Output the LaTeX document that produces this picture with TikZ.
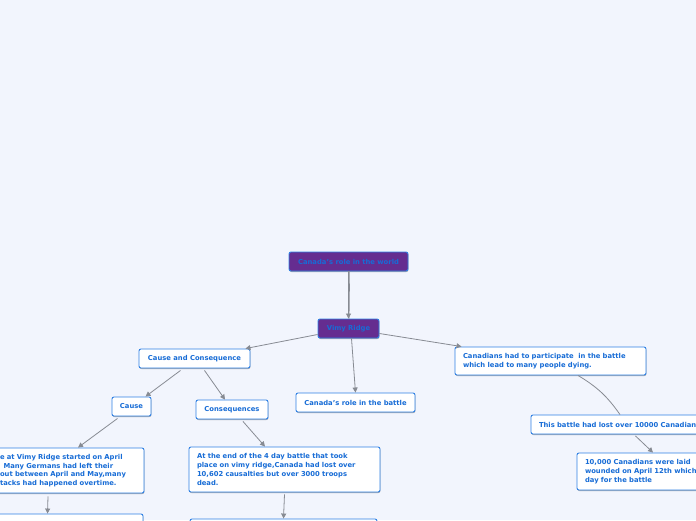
\documentclass[tikz,border=0pt]{standalone}
\usepackage{fontspec}
\setmainfont{DejaVu Sans}
\usetikzlibrary{arrows.meta,shadows}
\definecolor{pagebg}{HTML}{F2F5FD}
\definecolor{boxline}{HTML}{2F80E4}
\definecolor{boxtext}{HTML}{176CD6}
\definecolor{topicfill}{HTML}{652D90}
\definecolor{linkgray}{HTML}{878B93}
\begin{document}
\begin{tikzpicture}[x=1pt,y=-1pt,
		box/.style={draw=boxline,line width=0.9pt,rounded corners=2pt,fill=white,text=boxtext,
			font=\fontsize{6.8}{8.7}\selectfont\bfseries,minimum height=19pt,inner ysep=0pt,inner xsep=8pt,
			drop shadow={shadow xshift=0.4pt,shadow yshift=-1pt,fill=black,opacity=0.3}},
		topic/.style={box,fill=topicfill},
		para/.style={box,align=left,text width=#1},
		link/.style={draw=linkgray,line width=0.8pt,-{Triangle[length=5pt,width=5pt]}}]
	\useasboundingbox (0,0) rectangle (696,520);
	\fill[pagebg] (0,0) rectangle (696,520);
	\clip (0,0) rectangle (696,520);
	% main topics
	\node[topic,minimum width=119pt] (world) at (348.5,261.5) {Canada's role in the world};
	\node[topic,minimum width=61pt] (vimy) at (348.5,328.5) {Vimy Ridge};
	% first level
	\node[box,minimum width=111pt] (cc) at (194.5,358.5) {Cause and Consequence};
	\node[box,minimum width=119pt] (role) at (355.5,402.5) {Canada's role in the battle};
	\node[para=175pt,minimum height=28pt] (part) at (550.5,361)
		{Canadians had to participate~ in the battle\\which lead to many people dying.};
	% cause and consequence
	\node[box,minimum width=39pt] (cause) at (131.5,406.5) {Cause};
	\node[box,minimum width=72pt] (cons) at (232,409.5) {Consequences};
	\node[para=136pt,minimum height=45pt] (start) at (68,470.5)
		{e at Vimy Ridge started on April\\\hspace*{3.5pt}Many Germans had left their\\out between April and May,many\\tacks had happened overtime.};
	\node[para=175pt,minimum height=45pt] (endbox) at (284.5,469.5)
		{At the end of the 4 day battle that took\\place on vimy ridge,Canada had lost over\\10,602 causalties but over 3000 troops\\dead.};
	\node[box,minimum width=151pt,minimum height=46pt] (below1) at (67.5,537) {};
	\node[box,minimum width=187pt,minimum height=46pt] (below2) at (283.5,542) {};
	% losses
	\node[para=193pt] (lost) at (635.5,424.5) {This battle had lost over 10000 Canadians};
	\node[para=147pt,minimum height=37pt] (wound) at (658.5,471.5)
		{10,000 Canadians were laid\\wounded on April 12th which\\day for the battle};
	% connectors
	\draw[link] (world.south) -- (vimy.north);
	\draw[draw=linkgray,line width=0.6pt] ([xshift=1.2pt]world.south) -- ([xshift=0.6pt]vimy.north);
	\draw[link] ([yshift=-6pt]vimy.west) -- ([xshift=-5pt]cc.north east);
	\draw[link] ([xshift=3pt]vimy.south) -- (role.north);
	\draw[link] ([yshift=-5pt]vimy.east) -- ([xshift=7pt]part.north west);
	\draw[link] ([xshift=-14pt,yshift=-2pt]cc.south) -- ([xshift=-6pt]cause.north east);
	\draw[link] ([xshift=10pt,yshift=-2pt]cc.south) -- ([xshift=-7pt]cons.north);
	\draw[link] ([xshift=-14pt,yshift=-2pt]cause.south) -- ([xshift=10pt]start.north);
	\draw[link] ([xshift=11pt,yshift=-2pt]cons.south) -- ([xshift=-19.5pt]endbox.north);
	\draw[link] ([yshift=-2pt]endbox.south) -- (below2.north);
	\draw[link] ([xshift=-20pt,yshift=-3pt]start.south) -- ([xshift=-20pt]below1.north);
	\draw[draw=linkgray,line width=0.8pt] ([xshift=27.5pt]part.south) to[bend left=12] ([xshift=-15.5pt]lost.north);
	\draw[link] ([yshift=-1.5pt]lost.south) -- ([xshift=-5.5pt]wound.north);
\end{tikzpicture}
\end{document}
